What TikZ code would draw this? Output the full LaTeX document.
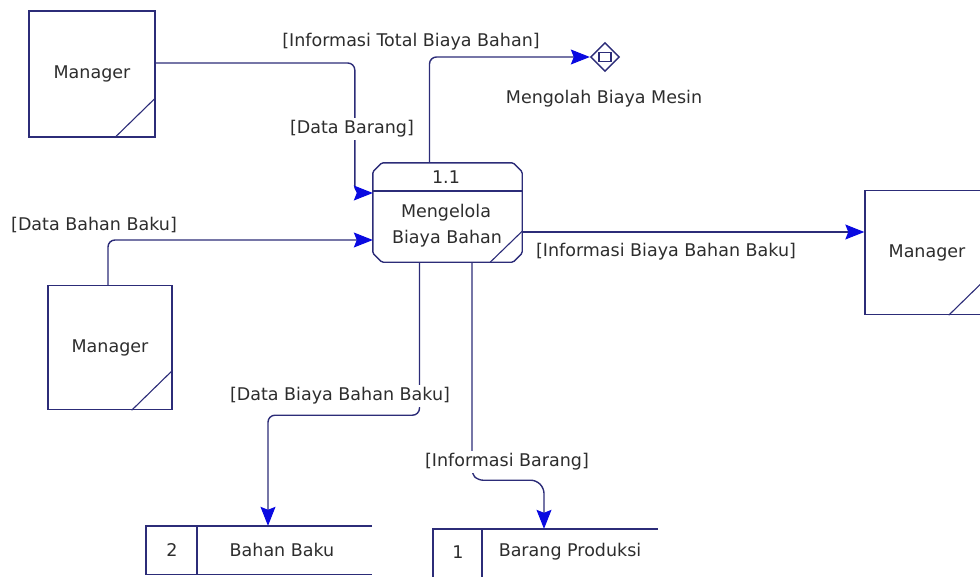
\documentclass[tikz,border=0pt]{standalone}
\usepackage{fontspec}
\setmainfont{DejaVu Sans}
\usetikzlibrary{shapes.geometric,arrows.meta,calc}
\definecolor{edge}{RGB}{44,44,120}
\definecolor{tip}{RGB}{10,10,225}
\definecolor{ink}{RGB}{45,45,45}
\tikzset{
  txt/.style={font=\fontsize{17.5}{20}\selectfont, text=ink, inner sep=2pt},
  lbl/.style={txt, fill=white, inner sep=3pt},
  entity/.style={draw=edge, line width=1.4pt, minimum width=124pt, minimum height=124pt,
    inner sep=0pt, txt},
  process/.style={minimum width=149pt, minimum height=99pt, inner sep=0pt},
  store/.style={minimum width=226pt, minimum height=48pt, inner sep=0pt},
  outline/.style={draw=edge, line width=1.4pt},
  hair/.style={draw=edge, line width=1.1pt},
  flow/.style={draw=edge, line width=1.4pt,
    -{Stealth[length=19pt, width=15pt, inset=3pt, line width=1pt, color=tip, fill=tip]}},
  bend/.style={rounded corners=#1},
  bend/.default=7pt,
}
\begin{document}
\begin{tikzpicture}[x=1pt, y=-1pt]
\useasboundingbox (0,0) rectangle (980,576);

% external entities
\node[entity, minimum width=126pt, minimum height=126pt] (m1) at (92,74) {Manager};
\node[entity] (m2) at (110,347.5) {Manager};
\node[entity] (m3) at (927,252.5) {Manager};
\foreach \e in {m1,m2,m3}
  \draw[hair] ($(\e.south east)+(-41,0)$) -- ($(\e.south east)+(0,-40)$);

% process 1.1 with cut corners
\node[process] (p) at (447.5,212.5) {};
\draw[outline, rounded corners=1.5pt]
  ($(p.north west)+(9,0)$) -- ($(p.north east)+(-9,0)$) -- ($(p.north east)+(0,9)$)
  -- ($(p.south east)+(0,-9)$) -- ($(p.south east)+(-9,0)$) -- ($(p.south west)+(9,0)$)
  -- ($(p.south west)+(0,-9)$) -- ($(p.north west)+(0,9)$) -- cycle;
\coordinate (pd) at ($(p.north)+(0,28)$);
\draw[outline] (p.west |- pd) -- (p.east |- pd);
\draw[hair] ($(p.south east)+(-32,0)$) -- ($(p.south east)+(0,-31)$);
\node[txt] (pid) at (446,177) {1.1};
\node[txt] (pn1) at (446,213) {Mengelola};
\node[txt] (pn2) at (447,239) {Biaya Bahan};

% data stores
\node[store] (s2) at (259,550) {};
\draw[outline] (s2.north east) -- (s2.north west) -- (s2.south west) -- (s2.south east);
\draw[outline] ($(s2.north west)+(51,0)$) -- ($(s2.south west)+(51,0)$);
\node[txt] (s2id) at (172,550) {2};
\node[txt] (s2n) at (282,550) {Bahan Baku};

\node[store, minimum width=225pt] (s1) at (545.5,553) {};
\draw[outline] (s1.north east) -- (s1.north west) -- (s1.south west) -- (s1.south east);
\draw[outline] ($(s1.north west)+(49,0)$) -- ($(s1.south west)+(49,0)$);
\node[txt] (s1id) at (458,552) {1};
\node[txt] (s1n) at (570,552) {Barang Produksi};

% off-page connector
\node[draw=edge, line width=1.4pt, diamond, minimum width=29pt, minimum height=29pt,
  inner sep=0pt] (d) at (605,57) {};
\node[draw=edge, line width=1.3pt, minimum width=12pt, minimum height=9pt,
  inner sep=0pt] (dr) at (d.center) {};
\node[txt] (dn) at (604,99) {Mengolah Biaya Mesin};

% data flows (corners rounded along the way, square again before the tip)
\draw[flow] ($(m1.east)+(0,-11)$) [bend] -| ($(p.west)+(-18,-19.5)$) [sharp corners]
  -- ($(p.west)+(0,-19.5)$);
\draw[flow] ($(m2.north)+(-2,0)$) [bend] |- ($(p.west)+(0,27.5)$) [sharp corners];
\draw[flow] ($(p.north)+(-18,0)$) [bend] |- (d.west) [sharp corners];
\draw[flow] ($(p.east)+(0,19.5)$) -- ($(m3.west)+(0,-20.5)$);
\draw[flow] ($(p.south)+(-28,0)$) [bend] -- ++(0,153) -| ($(s2.north)+(9,0)$) [sharp corners];
\draw[flow] ($(p.south)+(24.5,0)$) [bend=5pt] -- ++(0,212) -- ++(6,6)
  -- ++(58,0) -- ++(8,8) -- ($(s1.north)+(-1.5,0)$) [sharp corners];

% flow labels
\node[txt] (l1) at (411,42) {[Informasi Total Biaya Bahan]};
\node[lbl] (l2) at (352,129) {[Data Barang]};
\node[txt] (l3) at (94,225) {[Data Bahan Baku]};
\node[txt] (l4) at (666,252) {[Informasi Biaya Bahan Baku]};
\node[lbl] (l5) at (340,396) {[Data Biaya Bahan Baku]};
\node[lbl] (l6) at (507,462) {[Informasi Barang]};
\end{tikzpicture}
\end{document}
